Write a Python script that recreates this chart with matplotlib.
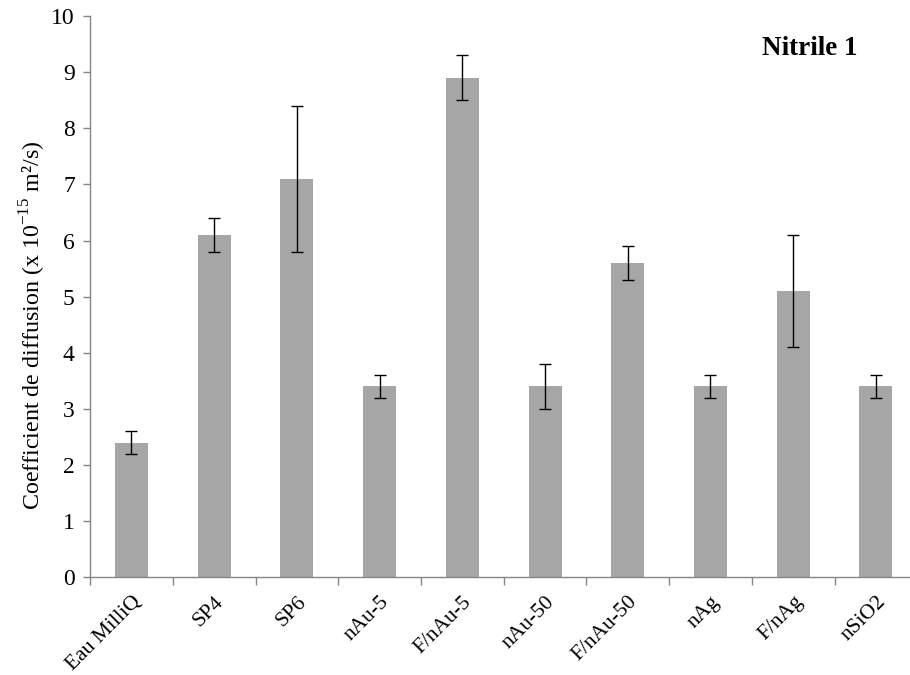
import numpy as np
import matplotlib.pyplot as plt

plt.rcParams['font.family'] = ['Liberation Serif', 'DejaVu Serif']
plt.rcParams['mathtext.fontset'] = 'custom'
plt.rcParams['mathtext.rm'] = 'Liberation Serif'

# Diffusion coefficients (x 1e-15 m2/s) and standard deviations
samples = ["Eau MilliQ", "SP4", "SP6", "nAu-5", "F/nAu-5", "nAu-50",
           "F/nAu-50", "nAg", "F/nAg", "nSiO2"]
coef = [2.4, 6.1, 7.1, 3.4, 8.9, 3.4, 5.6, 3.4, 5.1, 3.4]
err = [0.2, 0.3, 1.3, 0.2, 0.4, 0.4, 0.3, 0.2, 1.0, 0.2]

fig = plt.figure(figsize=(9.1, 6.75), dpi=100)
ax = fig.add_axes([0.099, 0.145, 0.909, 0.831])

x = np.arange(len(samples))
ax.bar(x, coef, width=0.4, color="#a6a6a6", zorder=2)
ax.errorbar(x, coef, yerr=err, fmt="none", ecolor="black",
            elinewidth=1, capsize=4, capthick=1, zorder=3)

ax.set_xlim(-0.5, len(samples) - 0.5)
ax.set_ylim(0, 10)
ax.set_yticks(range(0, 11))
ax.tick_params(axis="y", labelsize=17, direction="out", length=5,
               color="#868686", width=1, pad=6)

# category labels centred under bars, ticks between categories
ax.set_xticks(x)
ax.set_xticklabels(samples, rotation=45, ha="right", rotation_mode="anchor",
                   fontsize=15.5)
ax.tick_params(axis="x", length=0, pad=11)
ax.set_xticks(np.arange(-0.5, len(samples), 1), minor=True)
ax.tick_params(axis="x", which="minor", length=6, direction="out",
               color="#868686", width=1)

for side in ("top", "right"):
    ax.spines[side].set_visible(False)
for side in ("left", "bottom"):
    ax.spines[side].set_color("#868686")
    ax.spines[side].set_linewidth(1)

ax.set_ylabel(r"Coefficient de diffusion (x 10$^{\mathrm{-15}}$ m²/s)",
              fontsize=17.3)
ax.yaxis.set_label_coords(-0.051, 0.449)
ax.text(8.2, 9.43, "Nitrile 1", fontsize=19.5, fontweight="bold",
        ha="center", va="center")

fig.savefig("out.png", dpi=100)
